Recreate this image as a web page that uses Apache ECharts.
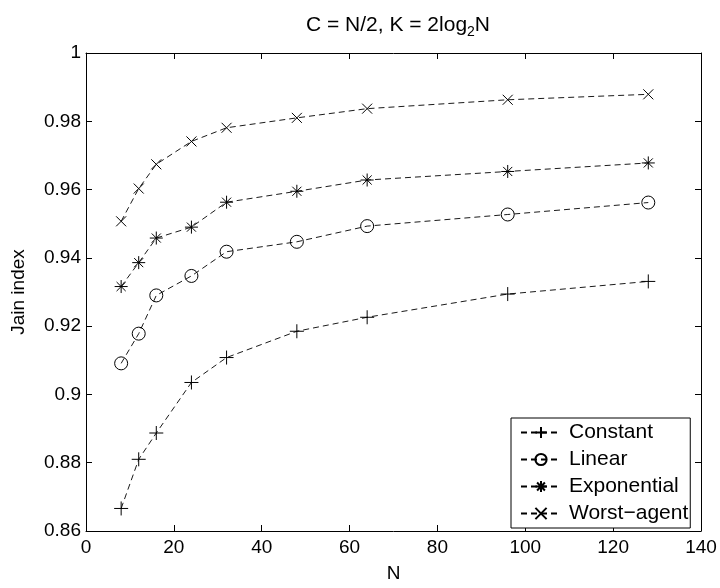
<!DOCTYPE html>
<html>
<head>
<meta charset="utf-8">
<script src="https://cdn.jsdelivr.net/npm/echarts@6/dist/echarts.min.js"></script>
<style>
  html, body { margin: 0; padding: 0; background: #fff; }
  #chart { width: 720px; height: 588px; }
</style>
</head>
<body>
<div id="chart"></div>
<script>
// Network sizes N
const nValues = [8, 12, 16, 24, 32, 48, 64, 96, 128];

// Jain fairness index per strategy
const constant    = [0.8666, 0.8810, 0.8887, 0.9035, 0.9108, 0.9185, 0.9226, 0.9294, 0.9331];
const linear      = [0.9091, 0.9178, 0.9290, 0.9347, 0.9418, 0.9447, 0.9493, 0.9527, 0.9562];
const exponential = [0.9316, 0.9386, 0.9458, 0.9490, 0.9563, 0.9595, 0.9628, 0.9653, 0.9678];
const worstAgent  = [0.9507, 0.9603, 0.9674, 0.9741, 0.9781, 0.9810, 0.9837, 0.9863, 0.9879];

const seriesNames = ['Constant', 'Linear', 'Exponential', 'Worst\u2212agent'];

// Axis ranges and ticks
const xMin = 0, xMax = 140, xStep = 20;
const yMin = 0.86, yMax = 1, yStep = 0.02;

const FONT = 'Liberation Sans, Arial, Helvetica, sans-serif';

// Stroke-only marker shapes
const plusPath = 'path://M0 5L10 5M5 0L5 10';
const crossPath = 'path://M0 0L10 10M0 10L10 0';
const starPath = 'path://M5 0L5 10M0 5L10 5M1.5 1.5L8.5 8.5M1.5 8.5L8.5 1.5';

const markers = [
  { symbol: plusPath, size: 14 },
  { symbol: 'circle', size: 13 },
  { symbol: starPath, size: 13 },
  { symbol: crossPath, size: 10 }
];
const dataSets = [constant, linear, exponential, worstAgent];

const series = dataSets.map((vals, i) => ({
  name: seriesNames[i],
  type: 'line',
  data: nValues.map((n, k) => [n, vals[k]]),
  symbol: markers[i].symbol,
  symbolSize: markers[i].size,
  showAllSymbol: true,
  lineStyle: { color: '#000', width: 0.9, type: [6, 4] },
  itemStyle: { color: 'rgba(255,255,255,0)', borderColor: '#000', borderWidth: 1 },
  emphasis: { disabled: true },
  animation: false,
  z: 3
}));

const chart = echarts.init(document.getElementById('chart'), null, { renderer: 'canvas' });

const axisCommon = {
  axisLine: { show: true, onZero: false, lineStyle: { color: '#000', width: 1 } },
  axisTick: { show: true, inside: true, length: 6, lineStyle: { color: '#000', width: 1 } },
  splitLine: { show: false }
};

chart.setOption({
  backgroundColor: '#fff',
  animation: false,
  title: {
    text: '{a|C = N/2, K = 2log}{s|2}{a|N}',
    left: 393, top: 6, textAlign: 'center',
    textStyle: {
      fontWeight: 'normal',
      rich: {
        a: { fontFamily: FONT, fontSize: 21, fontWeight: 'normal', color: '#000' },
        s: { fontFamily: FONT, fontSize: 14, fontWeight: 'normal', color: '#000', padding: [14, 0, 0, 0] }
      }
    }
  },
  grid: { left: 86, right: 19, top: 53, bottom: 53, containLabel: false },
  xAxis: [
    Object.assign({}, axisCommon, {
      type: 'value', position: 'bottom', min: xMin, max: xMax, interval: xStep,
      name: 'N', nameLocation: 'middle', nameGap: 33,
      nameTextStyle: { fontFamily: FONT, fontSize: 19, color: '#000' },
      axisLabel: { fontFamily: FONT, fontSize: 19, color: '#000', margin: 7 }
    }),
    Object.assign({}, axisCommon, {
      type: 'value', position: 'top', min: xMin, max: xMax, interval: xStep,
      axisLabel: { show: false }
    })
  ],
  yAxis: [
    Object.assign({}, axisCommon, {
      type: 'value', position: 'left', min: yMin, max: yMax, interval: yStep,
      name: 'Jain index', nameLocation: 'middle', nameGap: 58,
      nameTextStyle: { fontFamily: FONT, fontSize: 19, color: '#000' },
      axisLabel: {
        fontFamily: FONT, fontSize: 19, color: '#000', margin: 5,
        formatter: v => String(parseFloat(v.toFixed(2)))
      }
    }),
    Object.assign({}, axisCommon, {
      type: 'value', position: 'right', min: yMin, max: yMax, interval: yStep,
      axisLabel: { show: false }
    })
  ],
  legend: {
    orient: 'vertical',
    left: 511, top: 418,
    padding: [4, 2, 4, 9],
    itemGap: 6,
    itemWidth: 40, itemHeight: 14,
    backgroundColor: '#fff',
    borderColor: '#000', borderWidth: 1, borderRadius: 0,
    selectedMode: false,
    textStyle: { fontFamily: FONT, fontSize: 21, color: '#000', padding: [0, 0, 0, 3] },
    data: seriesNames
  },
  series: series
});
</script>
</body>
</html>
